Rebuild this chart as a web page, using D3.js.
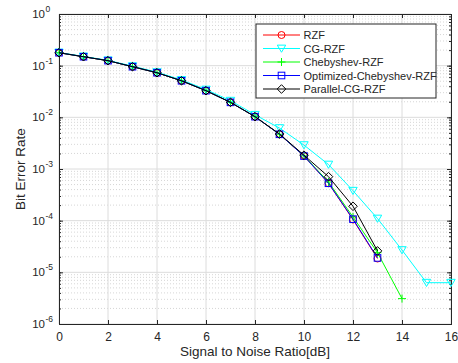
<!DOCTYPE html>
<html>
<head>
<meta charset="utf-8">
<script src="https://cdn.jsdelivr.net/npm/d3@7/dist/d3.min.js"></script>
<style>
  body { margin: 0; background: #fff; }
  text { font-family: "Liberation Sans", Arial, sans-serif; }
</style>
</head>
<body>
<svg id="chart" width="458" height="363"></svg>
<script>
// data
const snrRZF = [0, 1, 2, 3, 4, 5, 6, 7, 8, 9, 10, 11, 12, 13];
const berRZF = [0.178, 0.149, 0.125, 0.0955, 0.073, 0.051, 0.0328, 0.0195, 0.0103, 0.0047, 0.00178, 0.00053, 0.000105, 0.0000185];

const snrCG = [0, 1, 2, 3, 4, 5, 6, 7, 8, 9, 10, 11, 12, 13, 14, 15, 16];
const berCG = [0.18, 0.151, 0.127, 0.098, 0.075, 0.053, 0.0345, 0.021, 0.0112, 0.0062, 0.0029, 0.00122, 0.00038, 0.00011, 0.000027, 0.0000063, 0.0000063];

const snrCheb = [0, 1, 2, 3, 4, 5, 6, 7, 8, 9, 10, 11, 12, 13, 14];
const berCheb = [0.178, 0.149, 0.125, 0.0955, 0.073, 0.051, 0.0328, 0.0195, 0.0103, 0.0047, 0.0018, 0.00056, 0.000118, 0.000024, 0.0000031];

const snrOpt = [0, 1, 2, 3, 4, 5, 6, 7, 8, 9, 10, 11, 12, 13];
const berOpt = [0.178, 0.149, 0.125, 0.0955, 0.073, 0.051, 0.0328, 0.0195, 0.0103, 0.0047, 0.00178, 0.00053, 0.000107, 0.000019];

const snrPar = [0, 1, 2, 3, 4, 5, 6, 7, 8, 9, 10, 11, 12, 13];
const berPar = [0.178, 0.149, 0.125, 0.0955, 0.073, 0.051, 0.0328, 0.0195, 0.0103, 0.00476, 0.00185, 0.00071, 0.00019, 0.000026];

const seriesNames = ["RZF", "CG-RZF", "Chebyshev-RZF", "Optimized-Chebyshev-RZF", "Parallel-CG-RZF"];
const xTicks = [0, 2, 4, 6, 8, 10, 12, 14, 16];
const yExponents = [0, -1, -2, -3, -4, -5, -6];

const series = [
  { name: seriesNames[0], x: snrRZF, y: berRZF, color: "#ff0000", marker: "circle" },
  { name: seriesNames[1], x: snrCG, y: berCG, color: "#00ffff", marker: "triangle" },
  { name: seriesNames[2], x: snrCheb, y: berCheb, color: "#00ff00", marker: "plus" },
  { name: seriesNames[3], x: snrOpt, y: berOpt, color: "#0000ff", marker: "square" },
  { name: seriesNames[4], x: snrPar, y: berPar, color: "#000000", marker: "diamond" }
];

const svg = d3.select("#chart");
const margin = { left: 59, right: 7, top: 14, bottom: 39 };
const W = 458, H = 363;
const x = d3.scaleLinear().domain([0, 16]).range([margin.left, W - margin.right]);
const y = d3.scaleLog().domain([1e-6, 1]).range([H - margin.bottom, margin.top]);

const axisColor = "#262626";
const textColor = "#262626";

const grid = svg.append("g");
// minor y grid (dotted)
for (let e = -6; e < 0; e++) {
  for (let k = 2; k <= 9; k++) {
    const v = k * Math.pow(10, e);
    grid.append("line")
      .attr("x1", x(0)).attr("x2", x(16))
      .attr("y1", y(v)).attr("y2", y(v))
      .attr("stroke", "#c4c4c4").attr("stroke-width", 0.7)
      .attr("stroke-dasharray", "1,2");
  }
}
// major grid
xTicks.forEach(t => {
  grid.append("line")
    .attr("x1", x(t)).attr("x2", x(t))
    .attr("y1", y(1)).attr("y2", y(1e-6))
    .attr("stroke", "#dcdcdc").attr("stroke-width", 1);
});
yExponents.forEach(e => {
  const v = Math.pow(10, e);
  grid.append("line")
    .attr("x1", x(0)).attr("x2", x(16))
    .attr("y1", y(v)).attr("y2", y(v))
    .attr("stroke", "#dcdcdc").attr("stroke-width", 1);
});

// axes (ticks inward, box)
const xAxisB = d3.axisBottom(x).tickValues(xTicks).tickSize(-4).tickPadding(8).tickFormat(d3.format("d"));
const xAxisT = d3.axisTop(x).tickValues(xTicks).tickSize(-4).tickFormat("");
const yMinorVals = [];
for (let e = -6; e <= 0; e++) {
  for (let k = 1; k <= 9; k++) {
    const v = k * Math.pow(10, e);
    if (v <= 1) yMinorVals.push(v);
  }
}
const yAxisL = d3.axisLeft(y).tickValues(yExponents.map(e => Math.pow(10, e))).tickSize(-4).tickFormat("");
const yAxisR = d3.axisRight(y).tickValues(yExponents.map(e => Math.pow(10, e))).tickSize(-4).tickFormat("");
const yMinorL = d3.axisLeft(y).tickValues(yMinorVals).tickSize(-2).tickFormat("");
const yMinorR = d3.axisRight(y).tickValues(yMinorVals).tickSize(-2).tickFormat("");

function styleAxis(g) {
  g.selectAll("path").attr("stroke", axisColor).attr("stroke-width", 1);
  g.selectAll("line").attr("stroke", axisColor);
  g.selectAll("text").attr("fill", textColor).style("font-size", "12px").style("font-family", '"Liberation Sans", Arial, sans-serif');
}

svg.append("g").attr("transform", `translate(0,${y(1e-6)})`).call(xAxisB).call(styleAxis);
svg.append("g").attr("transform", `translate(0,${y(1)})`).call(xAxisT).call(styleAxis);
svg.append("g").attr("transform", `translate(${x(0)},0)`).call(yMinorL).call(styleAxis);
svg.append("g").attr("transform", `translate(${x(16)},0)`).call(yMinorR).call(styleAxis);
svg.append("g").attr("transform", `translate(${x(0)},0)`).call(yAxisL).call(styleAxis);
svg.append("g").attr("transform", `translate(${x(16)},0)`).call(yAxisR).call(styleAxis);

// y tick labels with superscripts
const yLab = svg.append("g");
yExponents.forEach(e => {
  const t = yLab.append("text")
    .attr("x", x(0) - 14).attr("y", y(Math.pow(10, e)) + 4)
    .attr("text-anchor", "end")
    .attr("fill", textColor)
    .style("font-size", "11.5px");
  t.append("tspan").text("10");
  t.append("tspan").attr("dy", -6).style("font-size", "8.5px").text(String(e))
    .attr("x", x(0) - 13.5).attr("text-anchor", "start");
});

// axis labels
svg.append("text")
  .attr("x", x(8)).attr("y", 356)
  .attr("text-anchor", "middle").attr("fill", textColor)
  .style("font-size", "13.5px")
  .text("Signal to Noise Ratio[dB]");
svg.append("text")
  .attr("transform", `translate(25,${(y(1) + y(1e-6)) / 2}) rotate(-90)`)
  .attr("text-anchor", "middle").attr("fill", textColor)
  .style("font-size", "13.5px")
  .text("Bit Error Rate");

// markers
function drawMarker(g, type, cx, cy, color) {
  if (type === "circle") {
    g.append("circle").attr("cx", cx).attr("cy", cy).attr("r", 3.5)
      .attr("fill", "none").attr("stroke", color).attr("stroke-width", 1);
  } else if (type === "triangle") {
    const s = 4.2;
    g.append("path").attr("d", `M${cx - s},${cy - s * 0.8}L${cx + s},${cy - s * 0.8}L${cx},${cy + s * 0.9}Z`)
      .attr("fill", "none").attr("stroke", color).attr("stroke-width", 1);
  } else if (type === "plus") {
    const s = 4;
    g.append("path").attr("d", `M${cx - s},${cy}L${cx + s},${cy}M${cx},${cy - s}L${cx},${cy + s}`)
      .attr("stroke", color).attr("stroke-width", 1);
  } else if (type === "square") {
    const s = 3.3;
    g.append("rect").attr("x", cx - s).attr("y", cy - s).attr("width", 2 * s).attr("height", 2 * s)
      .attr("fill", "none").attr("stroke", color).attr("stroke-width", 1);
  } else if (type === "diamond") {
    const s = 4.3;
    g.append("path").attr("d", `M${cx},${cy - s}L${cx + s},${cy}L${cx},${cy + s}L${cx - s},${cy}Z`)
      .attr("fill", "none").attr("stroke", color).attr("stroke-width", 1);
  }
}

const line = d3.line().x(d => x(d[0])).y(d => y(d[1]));
const plot = svg.append("g");
series.forEach(s => {
  const pts = s.x.map((v, i) => [v, s.y[i]]);
  plot.append("path").datum(pts).attr("d", line)
    .attr("fill", "none").attr("stroke", s.color).attr("stroke-width", 1);
  pts.forEach(p => drawMarker(plot, s.marker, x(p[0]), y(p[1]), s.color));
});

// legend
const lg = svg.append("g");
const lx = 256, ly = 24, lw = 180, lh = 74;
lg.append("rect").attr("x", lx).attr("y", ly).attr("width", lw).attr("height", lh)
  .attr("fill", "#fff").attr("stroke", axisColor).attr("stroke-width", 1);
series.forEach((s, i) => {
  const yy = ly + 11 + i * 13.5;
  lg.append("line").attr("x1", lx + 7).attr("x2", lx + 44).attr("y1", yy).attr("y2", yy)
    .attr("stroke", s.color).attr("stroke-width", 1);
  drawMarker(lg, s.marker, lx + 25.5, yy, s.color);
  lg.append("text").attr("x", lx + 47.5).attr("y", yy + 4)
    .attr("fill", textColor).style("font-size", "11px").text(s.name);
});
</script>
</body>
</html>
